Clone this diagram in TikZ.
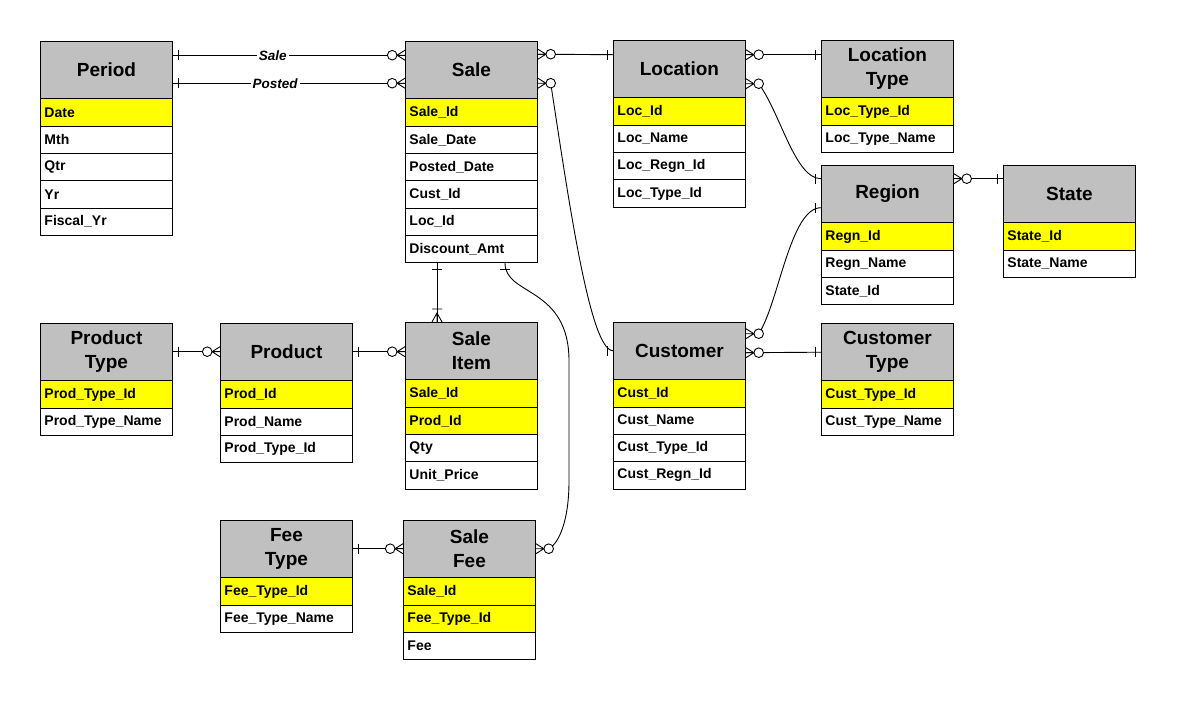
\documentclass[tikz,border=0pt]{standalone}
\usepackage{fontspec}
\setmainfont{Liberation Sans}
\usetikzlibrary{calc}
\definecolor{hgray}{HTML}{C0C0C0}
\definecolor{keyy}{HTML}{FFFF00}
\tikzset{
  conn/.style={line width=0.9pt, black},
  hdr/.style={draw, line width=0.9pt, fill=hgray, minimum width=132pt, minimum height=56.5pt,
    align=center, inner sep=0pt, anchor=north west,
    font=\fontsize{19}{24}\selectfont\bfseries},
  rowb/.style={draw, line width=0.9pt, text width=124pt, inner xsep=4pt, inner ysep=0pt,
    minimum height=27.3pt, align=left, anchor=north west,
    font=\fontsize{14}{15}\selectfont\bfseries},
  lbl/.style={fill=white, inner sep=2pt, font=\fontsize{13.5}{15}\selectfont\bfseries\itshape}
}
\newcommand\ent[5]{%
  \node[hdr] (#1) at (#2,#3) {#4};
  \foreach \c/\t [count=\i] in {#5} {
    \node[rowb, fill=\c] (#1-\i) at ($(#1.south west)+(0,{27.3*(\i-1)})$) {\t};
  }}
\newcommand\mOne[2]{\begin{scope}[shift={(#1)},rotate=#2]\draw[conn] (6,-5)--(6,5);\end{scope}}
\newcommand\mZM[2]{\begin{scope}[shift={(#1)},rotate=#2]\draw[conn] (0,5)--(8,0)--(0,-5) (0,0)--(8,0);\draw[conn,fill=white] (12.8,0) circle[radius=4.8pt];\end{scope}}
\newcommand\mOM[2]{\begin{scope}[shift={(#1)},rotate=#2]\draw[conn] (0,5)--(9,0)--(0,-5) (0,0)--(9,0) (13,-5)--(13,5);\end{scope}}
\begin{document}
\begin{tikzpicture}[x=1pt,y=-1pt]
\fill[white] (0,0) rectangle (1179,702);
\useasboundingbox (0,0) rectangle (1179,702);
% entities
\ent{Period}{40}{41}{Period}{keyy/Date, white/Mth, white/Qtr, white/Yr, white/Fiscal\_Yr}
\ent{Sale}{405}{41}{Sale}{keyy/Sale\_Id, white/Sale\_Date, white/Posted\_Date, white/Cust\_Id, white/Loc\_Id, white/Discount\_Amt}
\ent{Location}{613}{40}{Location}{keyy/Loc\_Id, white/Loc\_Name, white/Loc\_Regn\_Id, white/Loc\_Type\_Id}
\ent{LocType}{821}{40}{Location\\Type}{keyy/Loc\_Type\_Id, white/Loc\_Type\_Name}
\ent{Region}{821}{165}{Region}{keyy/Regn\_Id, white/Regn\_Name, white/State\_Id}
\ent{State}{1003}{165}{State}{keyy/State\_Id, white/State\_Name}
\ent{ProdType}{40}{323}{Product\\Type}{keyy/Prod\_Type\_Id, white/Prod\_Type\_Name}
\ent{Product}{220}{323}{Product}{keyy/Prod\_Id, white/Prod\_Name, white/Prod\_Type\_Id}
\ent{SaleItem}{405}{322}{Sale\\Item}{keyy/Sale\_Id, keyy/Prod\_Id, white/Qty, white/Unit\_Price}
\ent{Customer}{613}{322}{Customer}{keyy/Cust\_Id, white/Cust\_Name, white/Cust\_Type\_Id, white/Cust\_Regn\_Id}
\ent{CustType}{821}{323}{Customer\\Type}{keyy/Cust\_Type\_Id, white/Cust\_Type\_Name}
\ent{FeeType}{220}{520}{Fee\\Type}{keyy/Fee\_Type\_Id, white/Fee\_Type\_Name}
\ent{SaleFee}{403}{520}{Sale\\Fee}{keyy/Sale\_Id, keyy/Fee\_Type\_Id, white/Fee}
% coordinates
\coordinate (ps1) at ([yshift=14.5pt]Period.east);
\coordinate (ps2) at ([yshift=14.5pt]Sale.west);
\coordinate (pp1) at ([yshift=-13.5pt]Period.east);
\coordinate (pp2) at ([yshift=-13.5pt]Sale.west);
\coordinate (sl1) at ([yshift=15.5pt]Sale.east);
\coordinate (sl2) at ([yshift=14pt]Location.west);
\coordinate (sc1) at ([yshift=-13.5pt]Sale.east);
\coordinate (sc2) at (Customer.west);
\coordinate (ll1) at ([yshift=14pt]Location.east);
\coordinate (ll2) at ([yshift=14pt]LocType.west);
\coordinate (lr1) at ([yshift=-15pt]Location.east);
\coordinate (lr2) at ([yshift=15pt]Region.west);
\coordinate (rs1) at ([yshift=15pt]Region.east);
\coordinate (rs2) at ([yshift=15pt]State.west);
\coordinate (cr1) at ([yshift=17pt]Customer.east);
\coordinate (cr2) at ([yshift=-14pt]Region.west);
\coordinate (ct1) at ([yshift=-2pt]Customer.east);
\coordinate (ct2) at ([yshift=-0.5pt]CustType.west);
\coordinate (si1) at ([xshift=32pt]Sale-6.south west);
\coordinate (si2) at ([xshift=32pt]SaleItem.north west);
\coordinate (sf1) at ([xshift=100pt]Sale-6.south west);
\coordinate (sf2) at (SaleFee.east);
\coordinate (pt1) at (ProdType.east);
\coordinate (pt2) at (Product.west);
\coordinate (pi1) at (Product.east);
\coordinate (pi2) at (Product.east -| SaleItem.west);
\coordinate (ft1) at (FeeType.east);
\coordinate (ft2) at (SaleFee.west);
% connectors
\draw[conn] (ps1) -- node[lbl, pos=0.43] {Sale} (ps2);
\draw[conn] (pp1) -- node[lbl, pos=0.44] {Posted} (pp2);
\draw[conn] (sl1) -- (sl2);
\draw[conn] (ll1) -- (ll2);
\draw[conn] (rs1) -- (rs2);
\draw[conn] (ct1) -- (ct2);
\draw[conn] (si1) -- (si2);
\draw[conn] (pt1) -- (pt2);
\draw[conn] (pi1) -- (pi2);
\draw[conn] (ft1) -- (ft2);
\draw[conn] ($(sc1)+(12.8,0)$) .. controls +(18,117) and +(-23,0) .. (sc2);
\draw[conn] ($(lr1)+(12.8,0)$) .. controls +(22,30) and +(-26,0) .. (lr2);
\draw[conn] ($(cr1)+(12.8,0)$) .. controls +(20,-30) and +(-31,0) .. (cr2);
\draw[conn] (sf1) .. controls +(0,33) and +(0,-75) .. ($(sf1)+(64,98)$)
   -- ($(sf1)+(64,218)$) .. controls +(0,40) and +(10,-5) .. ($(sf2)+(12.8,0)$);
% end marks
\mOne{ps1}{0} \mZM{ps2}{180}
\mOne{pp1}{0} \mZM{pp2}{180}
\mZM{sl1}{0} \mOne{sl2}{180}
\mZM{sc1}{0} \mOne{sc2}{180}
\mZM{ll1}{0} \mOne{ll2}{180}
\mZM{lr1}{0} \mOne{lr2}{180}
\mZM{rs1}{0} \mOne{rs2}{180}
\mZM{cr1}{0} \mOne{cr2}{180}
\mZM{ct1}{0} \mOne{ct2}{180}
\mOne{si1}{-90} \mOM{si2}{90}
\mOne{sf1}{-90} \mZM{sf2}{0}
\mOne{pt1}{0} \mZM{pt2}{180}
\mOne{pi1}{0} \mZM{pi2}{180}
\mOne{ft1}{0} \mZM{ft2}{180}
\end{tikzpicture}
\end{document}
